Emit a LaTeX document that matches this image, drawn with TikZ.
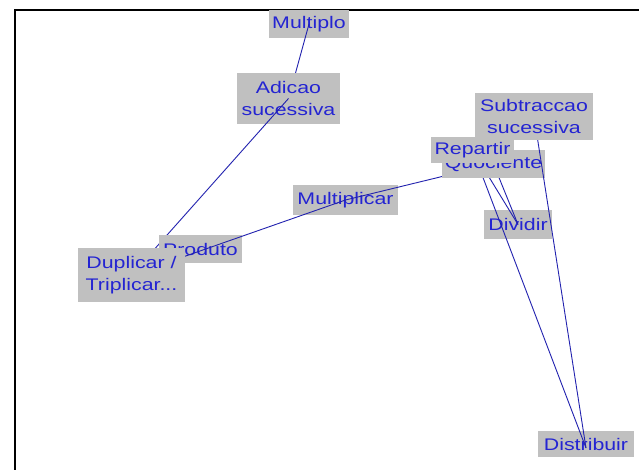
\documentclass[tikz,border=0pt]{standalone}
\usepackage{fontspec}
\newfontfamily\lblfont[FakeStretch=1.27]{Liberation Sans}
\definecolor{boxgray}{RGB}{192,192,192}
\definecolor{lblblue}{RGB}{36,36,210}
\definecolor{edgeblue}{RGB}{34,34,175}
\pgfdeclarelayer{bg}
\pgfdeclarelayer{l1}
\pgfdeclarelayer{l2}
\pgfdeclarelayer{l3}
\pgfdeclarelayer{l4}
\pgfdeclarelayer{l5}
\pgfdeclarelayer{l6}
\pgfdeclarelayer{l7}
\pgfdeclarelayer{l8}
\pgfsetlayers{bg,l1,l2,l3,l4,l5,l6,l7,l8,main}
\tikzset{
  box/.style={fill=boxgray, text=lblblue, inner sep=0pt, align=center,
    font=\lblfont\fontsize{16.8}{22}\selectfont},
  link/.style={draw=edgeblue, line width=0.9pt},
}
\begin{document}
\begin{tikzpicture}[x=1pt,y=-1pt]
\useasboundingbox (0,0) rectangle (639,470);
\begin{pgfonlayer}{bg}
  \fill[white] (0,0) rectangle (639,470);
  % frame
  \draw[line width=1.3pt] (15,470) -- (15,10) -- (639,10);
\end{pgfonlayer}

% concept boxes, stacked on layers
\begin{pgfonlayer}{l1}
  \node[box, minimum width=80, minimum height=28] (multiplo) at (309,24) {Multiplo};
\end{pgfonlayer}
\begin{pgfonlayer}{l3}
  \node[box, minimum width=103, minimum height=51] (adicao) at (288.5,98.5) {Adicao\\sucessiva};
\end{pgfonlayer}
\begin{pgfonlayer}{l5}
  \node[box, minimum width=83, minimum height=28] (produto) at (200.5,249) {Produto};
  \node[box, minimum width=105, minimum height=30] (multiplicar) at (345.5,200) {Multiplicar};
  \node[box, minimum width=68, minimum height=29] (dividir) at (518,224.5) {Dividir};
  \node[box, minimum width=96, minimum height=26] (distribuir) at (586,444) {Distribuir};
\end{pgfonlayer}
\begin{pgfonlayer}{l7}
  \node[box, minimum width=107, minimum height=54] (duplicar) at (131.5,275) {Duplicar /\\Triplicar...};
  \node[box, minimum width=103, minimum height=28] (quociente) at (493.5,164) {Quociente};
\end{pgfonlayer}
\node[box, minimum width=118, minimum height=47] (subtraccao) at (534,116.5) {Subtraccao\\sucessiva};
\node[box, minimum width=83, minimum height=26] (repartir) at (472.5,150) {Repartir};

% connectors
\begin{pgfonlayer}{l2}
  \draw[link] (multiplo.center) -- (adicao.center);
\end{pgfonlayer}
\begin{pgfonlayer}{l4}
  \draw[link] (adicao.center) -- (duplicar.center);
\end{pgfonlayer}
\begin{pgfonlayer}{l6}
  \draw[link] (multiplicar.center) -- (duplicar.center);
  \draw[link] (multiplicar.center) -- (quociente.center);
  \draw[link] (repartir.center) -- (dividir.center);
  \draw[link] (quociente.center) -- (dividir.center);
  \draw[link] (repartir.center) -- ([yshift=-4pt]distribuir.center);
\end{pgfonlayer}
\begin{pgfonlayer}{l8}
  \draw[link] (subtraccao.center) -- ([yshift=-4pt]distribuir.center);
\end{pgfonlayer}
\end{tikzpicture}
\end{document}
